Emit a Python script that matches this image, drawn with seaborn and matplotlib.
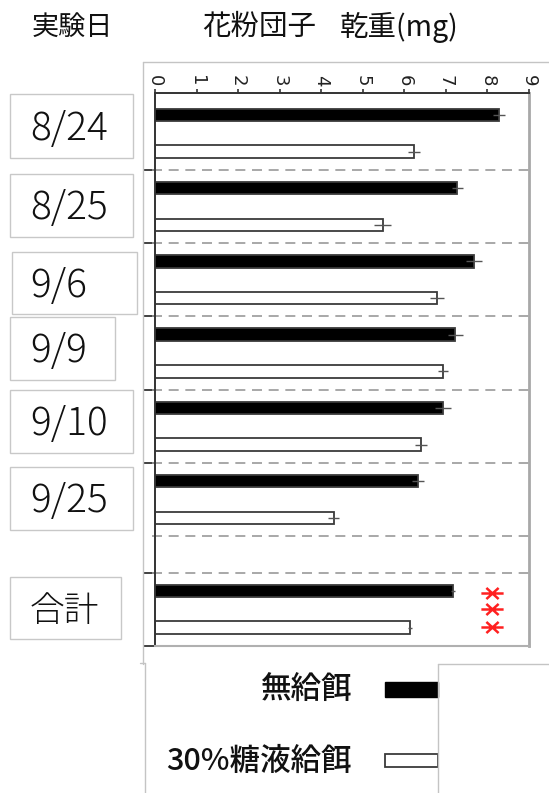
import numpy as np
import pandas as pd
import seaborn as sns
import matplotlib
matplotlib.use("Agg")
import matplotlib.pyplot as plt
from matplotlib.patches import Rectangle
from matplotlib.lines import Line2D
from matplotlib.path import Path

# --- data -------------------------------------------------------------
dates = ["8/24", "8/25", "9/6", "9/9", "9/10", "9/25", "合計"]
treatments = ["無給餌", "30%糖液給餌"]
no_feed = [8.28, 7.27, 7.68, 7.22, 6.93, 6.33, 7.17]
no_feed_err = [0.15, 0.13, 0.20, 0.18, 0.19, 0.14, 0.05]
sugar_feed = [6.23, 5.48, 6.79, 6.93, 6.40, 4.30, 6.13]
sugar_feed_err = [0.15, 0.20, 0.17, 0.12, 0.15, 0.13, 0.05]
x_ticks = [0, 1, 2, 3, 4, 5, 6, 7, 8, 9]

# --- layout -----------------------------------------------------------
W, H = 549, 793
slots = [0, 1, 2, 3, 4, 5, 6.5]          # 合計 sits after a half-slot gap
boundaries = [0.5, 1.5, 2.5, 3.5, 4.5, 5.5, 6.0]
ticks_left = [0.5, 1.5, 2.5, 3.5, 4.5, 6.0, 7.0]
label_boxes = [(10, 94, 133, 158), (10, 174, 133, 237), (12, 252, 137, 314),
               (10, 317, 115, 380), (10, 390, 133, 453), (10, 467, 133, 530),
               (10, 577, 121, 639)]

JP = ["Noto Sans CJK JP", "DejaVu Sans"]

def fx(px):
    return px / W

def fy(py):
    return 1 - py / H

sns.set_theme(style="white")
plt.rcParams["font.family"] = JP

df = pd.DataFrame({
    "slot": slots * 2,
    "value": no_feed + sugar_feed,
    "err": no_feed_err + sugar_feed_err,
    "treatment": [treatments[0]] * len(dates) + [treatments[1]] * len(dates),
})

fig = plt.figure(figsize=(W / 100, H / 100), dpi=100)
ax = fig.add_axes([fx(155), fy(646), fx(529) - fx(155), fy(93) - fy(646)])

sns.barplot(data=df, x="value", y="slot", hue="treatment", hue_order=treatments,
            orient="y", native_scale=True, width=1.0, gap=0.66, dodge=True,
            palette={treatments[0]: "black", treatments[1]: "white"},
            edgecolor="#3a3a3a", linewidth=1.3, errorbar=None, legend=False, ax=ax)

# error whiskers at each bar end
for cont, tr in zip(ax.containers, treatments):
    sub = df[df["treatment"] == tr]
    centers = [p.get_y() + p.get_height() / 2 for p in cont.patches]
    ax.errorbar(sub["value"], centers, xerr=sub["err"], fmt="none",
                ecolor="#555555", elinewidth=1.0, capsize=0, zorder=5)

ax.set_xlim(0, 9)
ax.set_ylim(7.0, -0.55)
ax.set_xlabel("")
ax.set_ylabel("")

# group separators
for b in boundaries:
    ax.plot([-0.07, 9], [b, b], color="#9a9a9a", lw=1.2, ls=(0, (6, 4)),
            clip_on=False, zorder=1)

# significance mark on the total
star = Path([(-1, 0), (1, 0), (-0.55, -0.5), (0.55, 0.5), (-0.55, 0.5), (0.55, -0.5)],
            [Path.MOVETO, Path.LINETO, Path.MOVETO, Path.LINETO, Path.MOVETO, Path.LINETO])
ax.plot([8.12] * 3, [slots[-1] - 0.23, slots[-1], slots[-1] + 0.24], ls="none",
        marker=star, ms=16, mew=1.8, color="#ff2020", clip_on=False)

# axes styling
ax.xaxis.tick_top()
ax.set_xticks(x_ticks)
ax.set_xticklabels([str(t) for t in x_ticks], rotation=-90, fontsize=13,
                   family="DejaVu Sans", color="#222222")
ax.tick_params(axis="x", direction="out", length=3, width=1.2, color="#333333",
               pad=2, top=True, bottom=False)
ax.set_yticks(ticks_left)
ax.set_yticklabels([])
ax.tick_params(axis="y", direction="out", length=8.5, width=1.3, color="#333333",
               left=True)
for side in ["top", "left"]:
    ax.spines[side].set_color("#333333")
    ax.spines[side].set_linewidth(1.4)
ax.spines["right"].set_color("#a8a8a8")
ax.spines["right"].set_linewidth(2.0)
ax.spines["bottom"].set_color("#b0b0b0")
ax.spines["bottom"].set_linewidth(1.5)
ax.grid(False)

# outer frame lines
def fline(x0, y0, x1, y1, color="#c4c4c4", lw=1.0):
    fig.add_artist(Line2D([fx(x0), fx(x1)], [fy(y0), fy(y1)], color=color, lw=lw,
                          transform=fig.transFigure))

fline(143, 62, 549, 62)
fline(143, 62, 143, 664)
fline(140, 663, 145, 663)
fline(145, 663, 145, 793)

# date label boxes
for (x0, y0, x1, y1), lab in zip(label_boxes, dates):
    fig.add_artist(Rectangle((fx(x0), fy(y1)), fx(x1) - fx(x0), fy(y0) - fy(y1),
                             transform=fig.transFigure, facecolor="white",
                             edgecolor="#c8c8c8", lw=1.0))
    size = 25 if lab == "合計" else 28
    fig.text(fx(30), fy((y0 + y1) / 2 + 3), lab, ha="left", va="center",
             fontsize=size, weight="light", color="#111111")

# headers
fig.text(fx(72), fy(27), "実験日", ha="center", va="center", fontsize=19.5,
         color="#111111")
fig.text(fx(202), fy(27), "花粉団子", ha="left", va="center", fontsize=20.5,
         color="#111111")
fig.text(fx(340), fy(27), "乾重(mg)", ha="left", va="center", fontsize=20.5,
         color="#111111")

# legend
fig.add_artist(Rectangle((fx(385), fy(697)), fx(438) - fx(385), fy(682) - fy(697),
                         transform=fig.transFigure, facecolor="black",
                         edgecolor="black", lw=1.0))
fig.add_artist(Rectangle((fx(385), fy(767)), fx(438) - fx(385), fy(754) - fy(767),
                         transform=fig.transFigure, facecolor="white",
                         edgecolor="#3a3a3a", lw=1.3))
fig.text(fx(352), fy(690), treatments[0], ha="right", va="center", fontsize=22,
         weight="medium", color="#111111")
fig.text(fx(352), fy(761), treatments[1], ha="right", va="center", fontsize=22,
         weight="medium", color="#111111")
fline(438, 664, 549, 664)
fline(438, 664, 438, 793)

fig.savefig("out.png", dpi=100, facecolor="white")
